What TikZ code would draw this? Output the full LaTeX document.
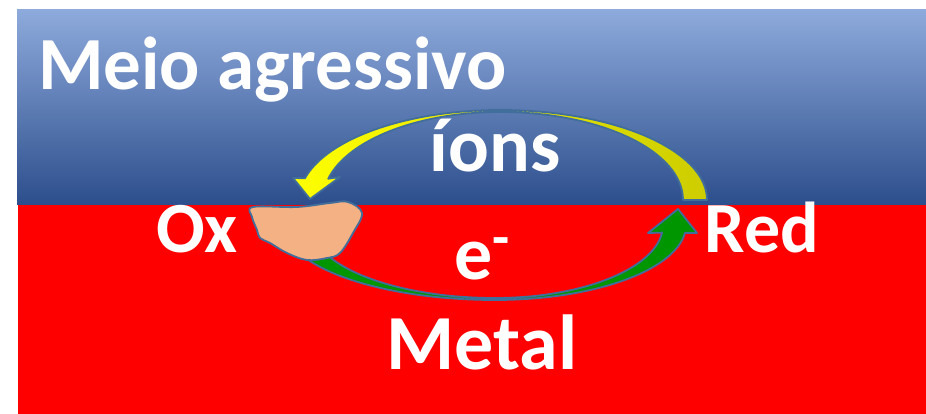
\documentclass[tikz,border=0pt]{standalone}
\usepackage{fontspec}
\setmainfont{Carlito}
\usetikzlibrary{calc}
\definecolor{bandtop}{RGB}{142,170,220}
\definecolor{bandmid}{RGB}{70,116,198}
\definecolor{bandbot}{RGB}{44,78,140}
\definecolor{metalred}{RGB}{255,0,0}
\definecolor{rimblue}{RGB}{65,110,155}
\definecolor{ionyellow}{RGB}{255,255,0}
\definecolor{iontail}{RGB}{205,205,0}
\definecolor{elecgreen}{RGB}{0,150,0}
\definecolor{rusttan}{RGB}{244,177,131}
\begin{document}
\begin{tikzpicture}[x=1pt,y=1pt,
  lbl/.style={text=white, inner sep=0pt, font=\bfseries\fontsize{#1}{#1}\selectfont},
  outlined/.style={draw=rimblue, line width=1.8pt, line join=round}]
\useasboundingbox (0,0) rectangle (926,414);

% Medium (blue band) and metal (red)
\shade[top color=bandtop, middle color=bandmid, bottom color=bandbot] (17,209) rectangle (926,404);
\fill[metalred] (18,0) rectangle (926,209);

% Arc centres
\coordinate (ionc) at (500,214);
\coordinate (elecc) at (495,189);

% Electron arrow: Ox -> Red
\path[outlined, fill=elecgreen] (678,205) -- (648,181)
  -- ($(elecc)+(-6:168pt and 73pt)$)
  arc[start angle=-6, end angle=-90, x radius=168pt, y radius=73pt]
  arc[start angle=-90, end angle=-155, x radius=184pt, y radius=73pt]
  -- ($(elecc)+(-155:211pt and 75pt)$)
  arc[start angle=-155, end angle=-90, x radius=211pt, y radius=75pt]
  arc[start angle=-90, end angle=-6, x radius=191pt, y radius=75pt]
  -- (697,181) -- cycle;

% Ion arrow: Red -> Ox
\path[outlined, left color=ionyellow, right color=iontail] (310,215) -- (340,237)
  -- ($(ionc)+(166:177pt and 88pt)$)
  arc[start angle=166, end angle=90, x radius=177pt, y radius=88pt]
  arc[start angle=90, end angle=0, x radius=183pt, y radius=88pt]
  -- (707,214)
  arc[start angle=0, end angle=90, x radius=207pt, y radius=90pt]
  arc[start angle=90, end angle=166, x radius=201pt, y radius=90pt]
  -- (293,236) -- cycle;

% Corrosion product
\draw[outlined, fill=rusttan] plot[smooth cycle, tension=0.6] coordinates {
  (253,207) (297,207) (330,211) (348,212) (362,201) (353,181) (340,161)
  (327,156) (307,154) (287,161) (270,171) (260,176) (257,184) (252,197)};

% Labels
\node[lbl=75, anchor=base west] (medium) at (38,324) {Meio agressivo};
\node[lbl=76, anchor=base] (ions) at (495,242) {íons};
\node[lbl=72, anchor=base] (ox) at (197,161) {Ox};
\node[lbl=72, anchor=base] (red) at (762,161) {Red};
\node[lbl=76, anchor=base] (elec) at (482,134) {e\raisebox{23pt}{\fontsize{56}{56}\selectfont -}};
\node[lbl=78, anchor=base] (metal) at (482,44) {Metal};
\end{tikzpicture}
\end{document}
